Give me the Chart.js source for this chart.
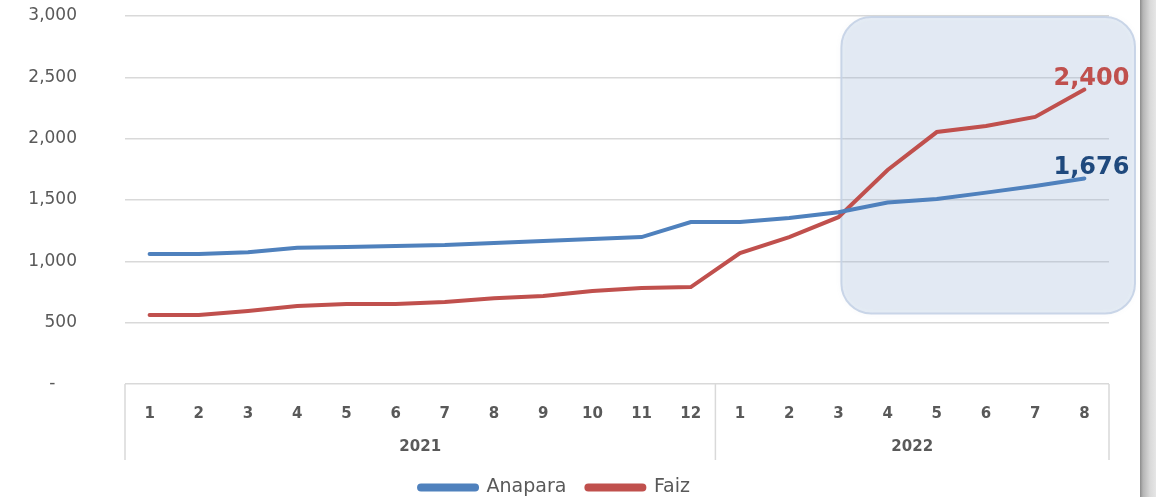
<!DOCTYPE html>
<html>
<head>
<meta charset="utf-8">
<script src="https://cdn.jsdelivr.net/npm/chart.js@4.4.1/dist/chart.umd.min.js"></script>
<style>
  html, body { margin: 0; padding: 0; background: #fff; }
  #wrap { position: relative; width: 1156px; height: 497px; overflow: hidden; }
  #edge { position: absolute; left: 1140px; top: 0; width: 16px; height: 497px;
          background: linear-gradient(to right, #8c8c8c 0px, #b5b5b5 3px, #d9d9d9 10px, #e6e6e6 16px); }
</style>
</head>
<body>
<div id="wrap">
  <canvas id="chart"></canvas>
  <div id="edge"></div>
</div>
<script>
// --- data ---
const months = ['1','2','3','4','5','6','7','8','9','10','11','12','1','2','3','4','5','6','7','8'];
const years = ['2021', '2022'];
const yearSpans = [12, 8];
const anapara = [1060, 1060, 1075, 1110, 1117, 1125, 1133, 1150, 1166, 1182, 1198, 1320, 1320, 1353, 1400, 1480, 1508, 1560, 1614, 1676];
const faiz = [562, 562, 595, 636, 652, 652, 668, 700, 717, 758, 783, 790, 1068, 1198, 1360, 1745, 2054, 2103, 2177, 2400];

const grey = '#595959';
const blue = '#4f81bd';
const red = '#c0504d';
const wide = '"DejaVu Sans", Verdana, sans-serif';

// highlight box behind the last months of 2022
const highlightBox = {
    id: 'highlightBox',
    beforeDatasetsDraw(chart) {
        const { ctx, scales: { x, y }, chartArea } = chart;
        const left = x.getPixelForValue(14) + 3;
        const right = chartArea.right + 26;
        const top = y.getPixelForValue(3000) + 1;
        const bottom = y.getPixelForValue(575);
        ctx.save();
        ctx.shadowColor = 'rgba(120,140,170,0.3)';
        ctx.shadowBlur = 6;
        ctx.beginPath();
        ctx.roundRect(left, top, right - left, bottom - top, 30);
        ctx.fillStyle = 'rgba(165,188,222,0.24)';
        ctx.fill();
        ctx.shadowBlur = 0;
        ctx.lineWidth = 2;
        ctx.strokeStyle = 'rgba(196,210,230,0.9)';
        ctx.stroke();
        ctx.restore();
    }
};

// year row and category box under the x axis
const yearAxis = {
    id: 'yearAxis',
    afterDraw(chart) {
        const { ctx, scales: { x }, chartArea } = chart;
        const half = (x.getPixelForValue(1) - x.getPixelForValue(0)) / 2;
        const top = chartArea.bottom;
        const bottom = top + 76;
        ctx.save();
        ctx.strokeStyle = '#d9d9d9';
        ctx.lineWidth = 1.5;
        let start = 0;
        const edges = [chartArea.left];
        yearSpans.forEach(n => {
            start += n;
            edges.push(start >= months.length ? chartArea.right : x.getPixelForValue(start - 1) + half);
        });
        edges.forEach(px => {
            ctx.beginPath();
            ctx.moveTo(px, top);
            ctx.lineTo(px, bottom);
            ctx.stroke();
        });
        ctx.fillStyle = grey;
        ctx.font = 'bold 15px ' + wide;
        ctx.textAlign = 'center';
        ctx.textBaseline = 'middle';
        years.forEach((yr, i) => {
            ctx.fillText(yr, (edges[i] + edges[i + 1]) / 2, top + 63);
        });
        ctx.restore();
    }
};

// value labels on the last point of each series
const endLabels = {
    id: 'endLabels',
    afterDatasetsDraw(chart) {
        const { ctx } = chart;
        const colors = ['#1f497d', '#c0504d'];
        ctx.save();
        ctx.font = 'bold 24px ' + wide;
        ctx.textAlign = 'center';
        ctx.textBaseline = 'middle';
        chart.data.datasets.forEach((ds, i) => {
            const meta = chart.getDatasetMeta(i);
            const pt = meta.data[meta.data.length - 1];
            const v = ds.data[ds.data.length - 1];
            ctx.fillStyle = colors[i];
            ctx.fillText(v.toLocaleString('en-US'), pt.x + 7, pt.y - 11);
        });
        ctx.restore();
    }
};

const ctx = document.getElementById('chart').getContext('2d');
new Chart(ctx, {
    type: 'line',
    data: {
        labels: months,
        datasets: [
            { label: 'Anapara', data: anapara, borderColor: blue, backgroundColor: blue, borderWidth: 4, pointRadius: 0, borderCapStyle: 'round' },
            { label: 'Faiz', data: faiz, borderColor: red, backgroundColor: red, borderWidth: 4, pointRadius: 0, borderCapStyle: 'round' }
        ]
    },
    options: {
        responsive: true,
        maintainAspectRatio: false,
        animation: false,
        layout: { padding: { top: 16, right: 47, left: 0, bottom: -10 } },
        scales: {
            x: {
                offset: true,
                grid: { display: false },
                border: { display: false },
                ticks: { color: grey, font: { family: wide, size: 15, weight: 'bold' }, padding: 13, autoSkip: false, maxRotation: 0 },
                afterFit(scale) { scale.height = 74; }
            },
            y: {
                min: 0,
                max: 3000,
                grid: { color: '#d9d9d9', lineWidth: 1.5, drawTicks: true, tickLength: 46, tickColor: 'rgba(0,0,0,0)' },
                border: { display: false },
                ticks: {
                    stepSize: 500,
                    color: grey,
                    padding: 2,
                    font: { family: wide, size: 17 },
                    callback: v => v === 0 ? '-    ' : v.toLocaleString('en-US')
                },
                afterFit(scale) { scale.width = 125; }
            }
        },
        plugins: {
            legend: {
                position: 'bottom',
                labels: {
                    boxWidth: 58,
                    boxHeight: 4,
                    useBorderRadius: true,
                    borderRadius: 2,
                    color: grey,
                    padding: 20,
                    font: { family: wide, size: 19 }
                }
            },
            tooltip: { enabled: false }
        }
    },
    plugins: [highlightBox, yearAxis, endLabels]
});
</script>
</body>
</html>
